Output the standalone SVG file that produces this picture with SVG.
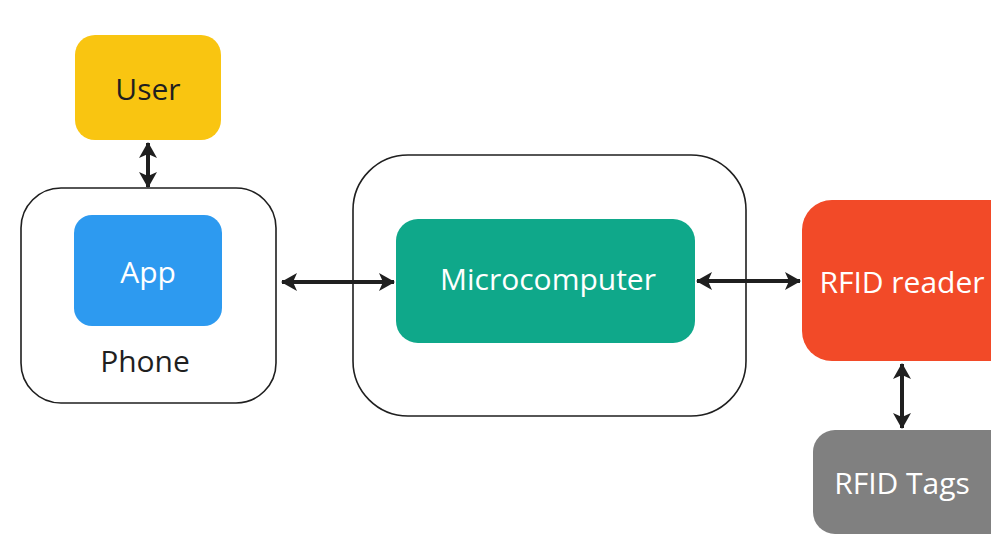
<svg xmlns="http://www.w3.org/2000/svg" width="991" height="538" viewBox="0 0 991 538">
  <defs>
    <style>
      .lbl { font-family: "Open Sans", "Noto Sans", sans-serif; font-size: 30px; text-anchor: middle; dominant-baseline: central; }
      .dark { fill: #1f1f1f; }
      .light { fill: #ffffff; }
      .frame { fill: #ffffff; stroke: #1f1f1f; stroke-width: 1.6; }
      .link { fill: none; stroke: #1f1f1f; stroke-width: 4; }
    </style>
    <marker id="tip" viewBox="0 0 16 18" refX="15" refY="9" markerWidth="16" markerHeight="18" markerUnits="userSpaceOnUse" orient="auto-start-reverse">
      <path d="M0,0 L16,9 L0,18 L4,9 Z" fill="#1f1f1f"/>
    </marker>
  </defs>
  <rect width="991" height="538" fill="#ffffff"/>

  <g id="phone">
    <rect class="frame" x="21" y="188" width="255" height="215" rx="40"/>
    <text class="lbl dark" x="145" y="360">Phone</text>
  </g>
  <g id="app">
    <rect x="74" y="215" width="148" height="111" rx="18" fill="#2d9af0"/>
    <text class="lbl light" x="148" y="271">App</text>
  </g>
  <g id="user">
    <rect x="75" y="35" width="146" height="105" rx="20" fill="#f9c511"/>
    <text class="lbl dark" x="148" y="88">User</text>
  </g>
  <g id="controller">
    <rect class="frame" x="353" y="155" width="393" height="261" rx="55"/>
  </g>
  <g id="microcomputer">
    <rect x="396" y="219" width="299" height="124" rx="22" fill="#0fa88a"/>
    <text class="lbl light" x="548" y="278">Microcomputer</text>
  </g>
  <g id="rfid-reader">
    <rect x="802" y="200" width="220" height="161" rx="30" fill="#f24a28"/>
    <text class="lbl light" x="902" y="281">RFID reader</text>
  </g>
  <g id="rfid-tags">
    <rect x="813" y="430" width="205" height="104" rx="22" fill="#808080"/>
    <text class="lbl light" x="902" y="482">RFID Tags</text>
  </g>

  <g id="connectors">
    <line class="link" x1="148" y1="143" x2="148" y2="187" marker-start="url(#tip)" marker-end="url(#tip)"/>
    <line class="link" x1="282" y1="282" x2="394" y2="282" marker-start="url(#tip)" marker-end="url(#tip)"/>
    <line class="link" x1="697" y1="281" x2="800" y2="281" marker-start="url(#tip)" marker-end="url(#tip)"/>
    <line class="link" x1="902" y1="364" x2="902" y2="428" marker-start="url(#tip)" marker-end="url(#tip)"/>
  </g>
</svg>
